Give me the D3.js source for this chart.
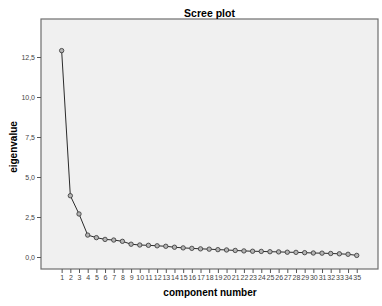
<!DOCTYPE html>
<html>
<head>
<meta charset="utf-8">
<script src="https://cdnjs.cloudflare.com/ajax/libs/d3/7.8.5/d3.min.js"></script>
<style>
  body { margin: 0; background: #fff; }
  svg { display: block; font-family: "Liberation Sans", Arial, sans-serif; }
</style>
</head>
<body>
<div id="chart"></div>
<script>
const components = d3.range(1, 36);
const eigenvalues = [12.9, 3.83, 2.69, 1.37, 1.21, 1.10, 1.06, 0.98, 0.80, 0.75,
  0.73, 0.70, 0.67, 0.61, 0.57, 0.54, 0.51, 0.49, 0.46, 0.44,
  0.41, 0.38, 0.36, 0.35, 0.33, 0.32, 0.30, 0.29, 0.27, 0.25,
  0.24, 0.22, 0.20, 0.17, 0.10];
const yTicks = [0, 2.5, 5, 7.5, 10, 12.5];

const width = 382, height = 306;
const plot = { left: 41, top: 19, right: 378, bottom: 269 };

const svg = d3.select("#chart").append("svg")
  .attr("width", width)
  .attr("height", height);

const x = d3.scaleLinear().domain([-1.38, 37.45]).range([plot.left, plot.right]);
const y = d3.scaleLinear().domain([-0.75, 14.875]).range([plot.bottom, plot.top]);

// plot background + frame
svg.append("rect")
  .attr("x", plot.left).attr("y", plot.top)
  .attr("width", plot.right - plot.left)
  .attr("height", plot.bottom - plot.top)
  .attr("fill", "#f0f0f0")
  .attr("stroke", "#6e6e6e")
  .attr("stroke-width", 1.2);

const fmt = d => d3.format(".1f")(d).replace(".", ",");

// axes
const yAxis = svg.append("g")
  .attr("transform", `translate(${plot.left},0)`)
  .call(d3.axisLeft(y).tickValues(yTicks).tickFormat(fmt).tickSize(4).tickPadding(2));
const xAxis = svg.append("g")
  .attr("transform", `translate(0,${plot.bottom})`)
  .call(d3.axisBottom(x).tickValues(components).tickFormat(d3.format("d")).tickSize(4).tickPadding(2));

[xAxis, yAxis].forEach(g => {
  g.select(".domain").remove();
  g.selectAll(".tick line").attr("stroke", "#555");
  g.selectAll(".tick text")
    .attr("fill", "#444")
    .style("font-size", "7px")
    .style("font-family", "'Liberation Sans', Arial, sans-serif");
});

// line + markers
const line = d3.line()
  .x((d, i) => x(components[i]))
  .y(d => y(d));

svg.append("path")
  .datum(eigenvalues)
  .attr("d", line)
  .attr("fill", "none")
  .attr("stroke", "#2b2b2b")
  .attr("stroke-width", 1);

svg.append("g")
  .selectAll("circle")
  .data(eigenvalues)
  .join("circle")
  .attr("cx", (d, i) => x(components[i]))
  .attr("cy", d => y(d))
  .attr("r", 2.2)
  .attr("fill", "#b4b4b4")
  .attr("stroke", "#333")
  .attr("stroke-width", 0.8);

// titles
svg.append("text")
  .attr("x", (plot.left + plot.right) / 2)
  .attr("y", 16.5)
  .attr("text-anchor", "middle")
  .style("font-size", "10.5px")
  .style("font-weight", "bold")
  .text("Scree plot");

svg.append("text")
  .attr("x", 210)
  .attr("y", 296)
  .attr("text-anchor", "middle")
  .style("font-size", "10px")
  .style("font-weight", "bold")
  .text("component number");

svg.append("text")
  .attr("transform", "translate(17,147) rotate(-90)")
  .attr("text-anchor", "middle")
  .style("font-size", "10px")
  .style("font-weight", "bold")
  .text("eigenvalue");
</script>
</body>
</html>
